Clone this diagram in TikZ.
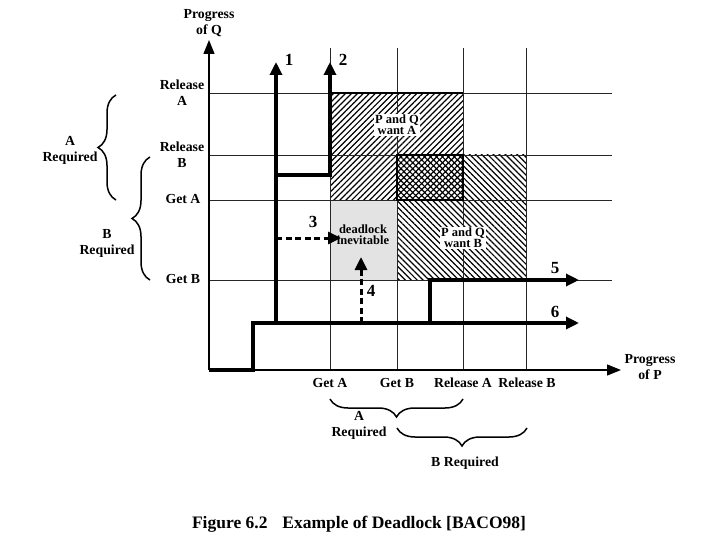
\documentclass[tikz,border=0pt]{standalone}
\usepackage{fontspec}
\setmainfont{Liberation Serif}
\usetikzlibrary{arrows.meta,patterns.meta,decorations.pathreplacing}
\begin{document}
\begin{tikzpicture}[x=1pt,y=-1pt,
 lbl/.style={font=\bfseries\fontsize{13.8}{16}\selectfont, align=center, inner sep=1pt},
 inlbl/.style={font=\bfseries\fontsize{12.5}{14}\selectfont, align=center, inner sep=1pt},
 gridline/.style={line width=0.9pt, black!85},
 thickpath/.style={line width=3.2pt, -{Triangle[length=13pt,width=12pt]}},
 dashpath/.style={line width=3pt, dash pattern=on 6pt off 3.5pt, -{Triangle[length=13pt,width=12pt]}},
 axis/.style={line width=1.3pt, -{Triangle[length=14pt,width=11pt]}},
 brc/.style={decorate, decoration={brace, amplitude=18pt}, line width=1.5pt},
 num/.style={font=\bfseries\fontsize{17}{18}\selectfont, inner sep=0pt},
 whitebox/.style={inlbl, fill=white, inner sep=1.5pt}
]
\useasboundingbox (0,0) rectangle (720,540);

% regions
\fill[black!11] (330,200) rectangle (397,280);
\fill[pattern={Lines[angle=45,distance=4.2pt,line width=1.2pt]}] (330,93) rectangle (463,200);
\fill[pattern={Lines[angle=-45,distance=4.2pt,line width=1.2pt]}] (397,155) rectangle (526,280);

% grid
\foreach \yy in {93,155,200,280} \draw[gridline] (209,\yy) -- (612,\yy);
\foreach \xx in {330,397,463,526} \draw[gridline] (\xx,370) -- (\xx,48);
\draw[line width=1.8pt] (397,155) rectangle (463,200);
\draw[line width=1.4pt] (330,93) -- (463,93);

% text boxes in regions
\node[whitebox] (wantA) at (397,125) {P and Q\\[-3pt]want A};
\node[whitebox] (wantB) at (463,238) {P and Q\\[-3pt]want B};
\node[inlbl] (dead) at (363,235) {deadlock\\[-3pt]inevitable};

% axes
\coordinate (O) at (209,370);
\coordinate (ytip) at (209,40);
\coordinate (xtip) at (621,370);
\draw[axis] (O) -- (ytip);
\draw[axis] (O) -- (xtip);

% paths
\coordinate (p6a) at (253,370);
\coordinate (p6b) at (253,323);
\coordinate (p6e) at (579,323);
\draw[thickpath] (O) -- (p6a) -- (p6b) -- (p6e);
\coordinate (p1s) at (276,323);
\coordinate (p1e) at (276,62);
\draw[thickpath] (p1s) -- (p1e);
\coordinate (p2s) at (276,175);
\coordinate (p2b) at (330,175);
\coordinate (p2e) at (330,62);
\draw[thickpath] (p2s) -- (p2b) -- (p2e);
\coordinate (p5s) at (430,323);
\coordinate (p5b) at (430,280);
\coordinate (p5e) at (579,280);
\draw[thickpath] (p5s) -- (p5b) -- (p5e);
\coordinate (p3s) at (276,238);
\coordinate (p3e) at (341,238);
\draw[dashpath] (p3s) -- (p3e);
\coordinate (p4s) at (361,323);
\coordinate (p4e) at (361,257);
\draw[dashpath] (p4s) -- (p4e);

% numbers
\node[num] (n1) at (289,60) {1};
\node[num] (n2) at (343,60) {2};
\node[num] (n3) at (313,222) {3};
\node[num] (n4) at (371,291) {4};
\node[num] (n5) at (555,268) {5};
\node[num] (n6) at (555,312) {6};

% axis labels
\node[lbl] (pq) at (209,23) {Progress\\of Q};
\node[lbl] (pp) at (650,367) {Progress\\of P};
\node[lbl] (yRA) at (182,93) {Release\\A};
\node[lbl] (yRB) at (182,155) {Release\\B};
\node[lbl] (yGA) at (183,199) {Get A};
\node[lbl] (yGB) at (183,279) {Get B};
\node[lbl] (xGA) at (330,383) {Get A};
\node[lbl] (xGB) at (397,383) {Get B};
\node[lbl] (xRA) at (463,383) {Release A};
\node[lbl] (xRB) at (527,383) {Release B};

% braces
\coordinate (bA1) at (116,200);
\coordinate (bA2) at (116,95);
\draw[brc] (bA1) -- (bA2);
\coordinate (bB1) at (150,280);
\coordinate (bB2) at (150,157);
\draw[brc] (bB1) -- (bB2);
\coordinate (cA1) at (463,399);
\coordinate (cA2) at (330,399);
\draw[brc] (cA1) -- (cA2);
\coordinate (cB1) at (527,428);
\coordinate (cB2) at (397,428);
\draw[brc] (cB1) -- (cB2);

\node[lbl] (lA) at (70,150) {A\\Required};
\node[lbl] (lB) at (107,243) {B\\Required};
\node[lbl] (bAl) at (359,425) {A\\Required};
\node[lbl] (bBl) at (465,463) {B Required};

% caption
\node[font=\bfseries\fontsize{17.5}{20}\selectfont] (cap) at (359,524) {Figure 6.2\hspace{0.6em} Example of Deadlock [BACO98]};
\end{tikzpicture}
\end{document}
